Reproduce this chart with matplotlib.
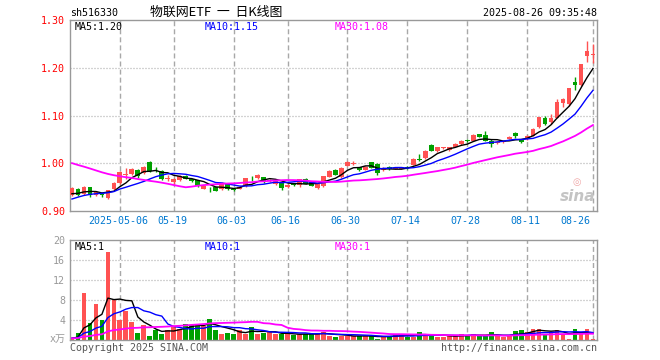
import matplotlib
matplotlib.use("Agg")
import matplotlib.pyplot as plt
import matplotlib.transforms as mtransforms
import numpy as np
import pandas as pd

#
# Data
#

dates = ["04-21", "04-22", "04-23", "04-24", "04-25", "04-28", "04-29", "04-30",
         "05-06", "05-07", "05-08", "05-09", "05-12", "05-13", "05-14", "05-15", "05-16",
         "05-19", "05-20", "05-21", "05-22", "05-23", "05-26", "05-27", "05-28", "05-29", "05-30",
         "06-03", "06-04", "06-05", "06-06", "06-09", "06-10", "06-11", "06-12", "06-13",
         "06-16", "06-17", "06-18", "06-19", "06-20", "06-23", "06-24", "06-25", "06-26", "06-27",
         "06-30", "07-01", "07-02", "07-03", "07-04", "07-07", "07-08", "07-09", "07-10", "07-11",
         "07-14", "07-15", "07-16", "07-17", "07-18", "07-21", "07-22", "07-23", "07-24", "07-25",
         "07-28", "07-29", "07-30", "07-31", "08-01", "08-04", "08-05", "08-06", "08-07", "08-08",
         "08-11", "08-12", "08-13", "08-14", "08-15", "08-18", "08-19", "08-20", "08-21", "08-22",
         "08-25", "08-26"]

opens = [0.934, 0.947, 0.936, 0.950, 0.933, 0.935, 0.928, 0.946, 0.959, 0.976,
         0.977, 0.985, 0.979, 1.002, 0.989, 0.983, 0.968, 0.961, 0.964, 0.974,
         0.966, 0.964, 0.947, 0.945, 0.950, 0.946, 0.957, 0.947, 0.947, 0.952,
         0.968, 0.969, 0.971, 0.962, 0.956, 0.959, 0.950, 0.957, 0.955, 0.966,
         0.960, 0.948, 0.952, 0.972, 0.985, 0.971, 0.995, 0.999, 0.992, 0.986,
         1.002, 0.999, 0.985, 0.993, 0.988, 0.989, 0.992, 0.997, 1.009, 1.010,
         1.039, 1.025, 1.031, 1.027, 1.035, 1.040, 1.048, 1.047, 1.061, 1.059,
         1.046, 1.043, 1.044, 1.051, 1.064, 1.048, 1.050, 1.058, 1.075, 1.095,
         1.086, 1.095, 1.127, 1.125, 1.170, 1.163, 1.224, 1.227]
closes = [0.948, 0.934, 0.950, 0.933, 0.939, 0.933, 0.943, 0.959, 0.981, 0.978,
          0.988, 0.973, 0.993, 0.984, 0.987, 0.967, 0.969, 0.967, 0.973, 0.968,
          0.962, 0.952, 0.953, 0.943, 0.942, 0.959, 0.947, 0.945, 0.951, 0.969,
          0.966, 0.976, 0.963, 0.965, 0.962, 0.949, 0.955, 0.955, 0.966, 0.957,
          0.953, 0.957, 0.973, 0.984, 0.976, 0.990, 1.003, 1.000, 0.986, 0.993,
          0.991, 0.979, 0.991, 0.987, 0.990, 0.991, 0.990, 1.009, 1.007, 1.026,
          1.026, 1.033, 1.033, 1.033, 1.041, 1.047, 1.046, 1.060, 1.055, 1.047,
          1.040, 1.045, 1.046, 1.056, 1.058, 1.044, 1.058, 1.072, 1.096, 1.083,
          1.094, 1.128, 1.134, 1.157, 1.163, 1.207, 1.236, 1.229]
highs = [0.951, 0.949, 0.952, 0.951, 0.941, 0.938, 0.945, 0.961, 0.983, 0.990,
         0.990, 0.987, 0.995, 1.004, 0.992, 0.985, 0.975, 0.969, 0.975, 0.976,
         0.967, 0.965, 0.955, 0.950, 0.951, 0.960, 0.958, 0.949, 0.952, 0.970,
         0.973, 0.978, 0.972, 0.967, 0.963, 0.960, 0.956, 0.958, 0.967, 0.970,
         0.961, 0.958, 0.974, 0.985, 0.987, 0.993, 1.004, 1.004, 0.993, 0.995,
         1.003, 1.000, 0.993, 0.995, 0.991, 0.993, 0.994, 1.010, 1.020, 1.027,
         1.041, 1.034, 1.035, 1.034, 1.042, 1.048, 1.050, 1.061, 1.062, 1.067,
         1.050, 1.047, 1.047, 1.057, 1.065, 1.049, 1.060, 1.073, 1.097, 1.100,
         1.104, 1.135, 1.137, 1.158, 1.180, 1.208, 1.256, 1.249]
lows = [0.932, 0.932, 0.934, 0.930, 0.931, 0.929, 0.926, 0.945, 0.957, 0.968,
        0.975, 0.970, 0.978, 0.982, 0.982, 0.965, 0.962, 0.957, 0.962, 0.966,
        0.960, 0.950, 0.946, 0.939, 0.941, 0.945, 0.945, 0.942, 0.946, 0.951,
        0.962, 0.968, 0.958, 0.960, 0.954, 0.945, 0.949, 0.953, 0.951, 0.956,
        0.952, 0.947, 0.951, 0.971, 0.975, 0.970, 0.994, 0.996, 0.984, 0.985,
        0.990, 0.976, 0.984, 0.985, 0.987, 0.987, 0.988, 0.996, 1.005, 1.009,
        1.025, 1.024, 1.029, 1.026, 1.034, 1.039, 1.044, 1.046, 1.054, 1.046,
        1.033, 1.041, 1.043, 1.050, 1.052, 1.043, 1.049, 1.057, 1.074, 1.080,
        1.083, 1.094, 1.117, 1.120, 1.153, 1.162, 1.212, 1.210]

# volume, unit: 万
volumes = [0.4, 1.5, 9.5, 3.5, 7.2, 4.0, 17.7, 8.0, 4.0, 5.9,
           3.6, 1.5, 3.0, 0.8, 2.1, 1.2, 2.0, 2.9, 2.2, 3.3,
           3.1, 3.0, 2.9, 4.2, 2.0, 1.3, 1.5, 1.3, 2.0, 1.3,
           2.7, 1.2, 1.5, 1.6, 1.2, 1.2, 1.2, 1.0, 1.2, 1.3,
           1.2, 1.3, 1.6, 0.8, 0.7, 0.9, 0.8, 0.8, 0.8, 0.8,
           0.8, 0.3, 0.7, 0.8, 1.2, 1.2, 0.7, 0.7, 1.6, 1.2,
           0.8, 0.7, 0.7, 0.8, 0.8, 1.2, 0.8, 1.2, 0.8, 0.8,
           1.6, 0.8, 0.6, 0.8, 1.8, 2.0, 1.6, 2.2, 2.2, 1.2,
           1.6, 2.0, 1.2, 0.3, 2.2, 1.6, 2.2, 0.3]

# history before the first shown day, only used for the moving averages
pre_closes = [1.050, 1.055, 1.048, 1.060, 1.052, 1.045, 1.040, 1.046, 1.038, 1.035,
              1.042, 1.048, 1.044, 1.036, 1.030, 1.040, 1.045, 1.050, 1.032, 0.920,
              0.895, 0.915, 0.910, 0.925, 0.925, 0.930, 0.935, 0.928, 0.940]
pre_volumes = [0.3, 0.2, 0.4, 0.3, 0.3, 0.2, 0.3, 0.4, 0.3, 0.2,
               0.3, 0.3, 0.4, 0.3, 0.2, 0.3, 0.3, 0.5, 0.4, 0.6,
               0.5, 0.4, 0.3, 0.3, 0.4, 0.3, 0.3, 0.4, 0.3]

tick_dates = ["05-06", "05-19", "06-03", "06-16", "06-30", "07-14", "07-28", "08-11", "08-26"]
tick_labels = ["2025-05-06", "05-19", "06-03", "06-16", "06-30", "07-14", "07-28", "08-11", "08-26"]
price_ticks = [0.90, 1.00, 1.10, 1.20, 1.30]
vol_ticks = [0, 4, 8, 12, 16, 20]
vol_tick_labels = ["", "4", "8", "12", "16", "20"]

price_ma_text = ["MA5:1.20", "MA10:1.15", "MA30:1.08"]
vol_ma_text = ["MA5:1", "MA10:1", "MA30:1"]

#
# Some settings
#

W, H = 660, 360
red = "#ff5252"
green = "#00a000"
ma_colors = ["black", "#0000ff", "#ff00ff"]
grid_col = "#a8a8a8"
mono = "DejaVu Sans Mono"
fs = 7.2

def fx(px):
    return px / W

def fy(py):
    return 1 - py / H

x = np.arange(len(dates))
O = np.array(opens); C = np.array(closes); Hi = np.array(highs); Lo = np.array(lows)
V = np.array(volumes)
cols = np.where(C >= O, red, green)
n_pre = len(pre_closes)

price_ma = [pd.Series(pre_closes + closes).rolling(n).mean().values[n_pre:] for n in (5, 10, 30)]
vol_ma = [pd.Series(pre_volumes + volumes).rolling(n).mean().values[n_pre:] for n in (5, 10, 30)]
tick_idx = [dates.index(d) for d in tick_dates]

#
# Figure and panels
#

fig = plt.figure(figsize=(W / 100, H / 100), dpi=100, facecolor="white")
ax_p = fig.add_axes([fx(70), fy(211), fx(527), 191 / H])
ax_v = fig.add_axes([fx(70), fy(340), fx(527), 100 / H])

for ax in (ax_p, ax_v):
    ax.set_xlim(-0.33, 87.67)
    for s in ax.spines.values():
        s.set_color("#999999")
        s.set_linewidth(1)
    ax.tick_params(length=0)
    ax.set_xticks([])
    for i in tick_idx:                                                   # dashed date lines
        ax.axvline(i, color=grid_col, lw=1, ls=(0, (3.6, 2.2)), zorder=0)

#
# Price panel
#

ax_p.set_ylim(0.90, 1.30)
ax_p.set_yticks(price_ticks)
ax_p.set_yticklabels(["%.2f" % t for t in price_ticks], color="#ff0000", fontsize=fs, family=mono)
ax_p.tick_params(axis="y", pad=3.5)
for t in price_ticks[1:-1]:
    ax_p.axhline(t, color=grid_col, lw=0.9, ls=(0, (0.8, 1.6)), zorder=0)

ax_p.vlines(x, Lo, Hi, colors=cols, lw=1, zorder=2)
ax_p.bar(x, np.maximum(np.abs(C - O), 0.0012), bottom=np.minimum(O, C), width=0.8, color=cols, zorder=3)
for ma, c, lw in zip(price_ma, ma_colors, (1.0, 1.0, 1.3)):
    ax_p.plot(x, ma, color=c, lw=lw, zorder=4)

trans = mtransforms.blended_transform_factory(ax_p.transData, ax_p.transAxes)
for i, lab in zip(tick_idx, tick_labels):
    if lab == tick_labels[-1]:
        ax_p.text(i - 0.5, -0.053, lab, transform=trans, ha="right", va="center",
                  color="#0078d0", fontsize=fs, family=mono, clip_on=False)
    else:
        ax_p.text(i - 0.3, -0.053, lab, transform=trans, ha="center", va="center",
                  color="#0078d0", fontsize=fs, family=mono, clip_on=False)

# sina watermark
ax_p.text(0.963, 0.075, "sina", transform=ax_p.transAxes, ha="center", va="center",
          color="#c4c4c4", fontsize=11, fontweight="bold", style="italic", zorder=1)
ax_p.text(0.961, 0.15, "◎", transform=ax_p.transAxes, ha="center", va="center",
          color="#f0a8a8", fontsize=7, zorder=1)

#
# Volume panel
#

ax_v.set_ylim(0, 20)
ax_v.set_yticks(vol_ticks)
ax_v.set_yticklabels(vol_tick_labels, color="#999999", fontsize=fs, family=mono)
ax_v.tick_params(axis="y", pad=3.5)
for t in vol_ticks[1:-1]:
    ax_v.axhline(t, color=grid_col, lw=0.9, ls=(0, (0.8, 1.6)), zorder=0)

ax_v.bar(x, V, width=0.8, color=cols, zorder=2)
for ma, c, lw in zip(vol_ma, ma_colors, (1.0, 1.0, 1.3)):
    ax_v.plot(x, ma, color=c, lw=lw, zorder=3)

#
# Texts
#

fig.text(fx(70), fy(13), "sh516330", ha="left", va="center", fontsize=fs, family=mono)
fig.text(fx(216), fy(12), "物联网ETF  一  日K线图", ha="center", va="center", fontsize=9.3,
         family=["Noto Sans CJK SC", "DejaVu Sans"])
fig.text(fx(597), fy(13), "2025-08-26 09:35:48", ha="right", va="center", fontsize=fs, family=mono)

for px, s, c in zip((75, 205, 335), price_ma_text, ma_colors):
    fig.text(fx(px), fy(27), s, ha="left", va="center", color=c, fontsize=fs, family=mono)
for px, s, c in zip((75, 205, 335), vol_ma_text, ma_colors):
    fig.text(fx(px), fy(247), s, ha="left", va="center", color=c, fontsize=fs, family=mono)

fig.text(fx(66), fy(339), "x万", ha="right", va="center", color="#999999", fontsize=fs,
         family=[mono, "Noto Sans CJK SC"])
fig.text(fx(70), fy(348), "Copyright 2025 SINA.COM", ha="left", va="center",
         color="#555555", fontsize=fs, family=mono)
fig.text(fx(597), fy(348), "http://finance.sina.com.cn", ha="right", va="center",
         color="#555555", fontsize=fs, family=mono)

plt.savefig("out.png", dpi=100, facecolor="white")
